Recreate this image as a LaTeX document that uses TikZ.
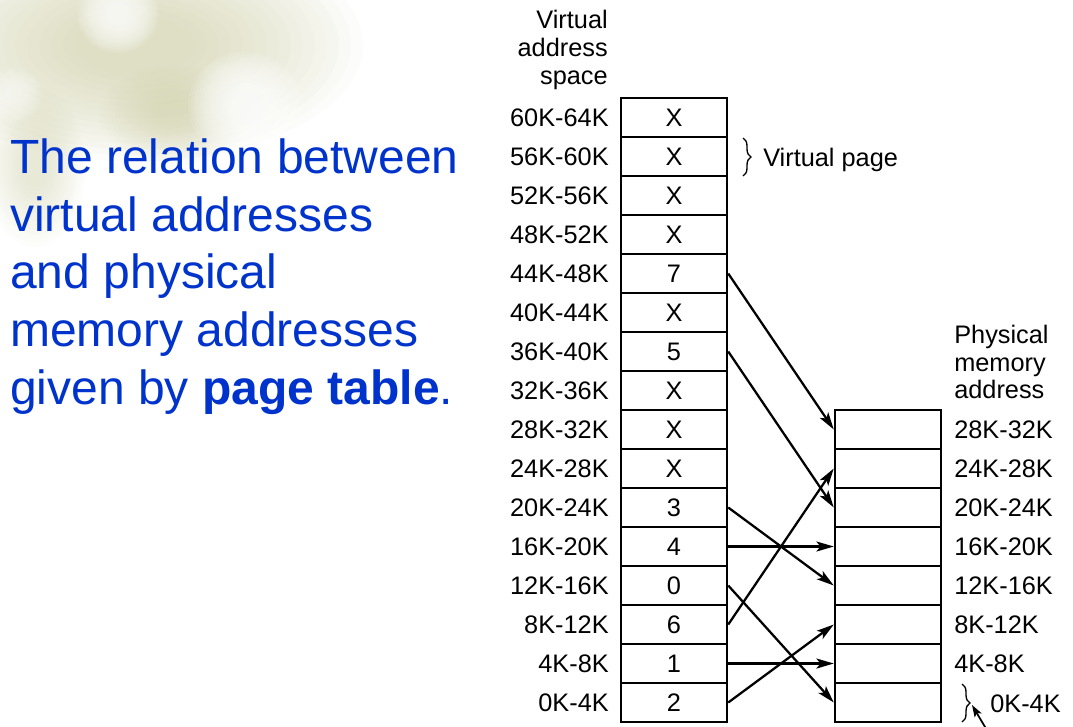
\documentclass[tikz,border=0pt]{standalone}
\usepackage{fontspec}
\setmainfont{Liberation Sans}
\usetikzlibrary{arrows.meta,decorations.pathreplacing}
\definecolor{titleblue}{RGB}{0,51,204}
\definecolor{leaf}{RGB}{196,196,150}
\newcommand\lblfont{\fontsize{19}{21}\selectfont}
% soft spot built from stacked translucent ellipses:
% #1 colour, #2 x, #3 y, #4 x radius (pt), #5 y radius (pt), #6 opacity per layer
\newcommand\softspot[6]{%
  \foreach \s in {0.25,0.3,...,1.0}{%
    \fill[#1,opacity=#6] (#2,#3) ellipse [x radius={\s*#4pt},y radius={\s*#5pt}];
  }}
\begin{document}
\begin{tikzpicture}[x=0.75pt,y=-0.75pt,
  cell/.style={draw,line width=1.85pt,minimum width=79.5pt,minimum height=29.25pt,inner sep=0pt,font=\lblfont},
  lbl/.style={inner sep=0pt,font=\lblfont},
  title/.style={inner sep=0pt,anchor=base west,text=titleblue,font=\fontsize{36}{43.5}\selectfont},
  map/.style={line width=1.7pt,-{Stealth[length=13pt,width=7.5pt,inset=3pt]}},
  bracebar/.style={decorate,decoration={brace,amplitude=6pt},line width=1pt}]
\useasboundingbox (0,0) rectangle (1073,726);

% soft leaf pattern in the upper left corner
\softspot{leaf}{135}{45}{180}{92}{0.05}
\softspot{leaf}{175}{115}{60}{40}{0.035}
\softspot{leaf}{35}{165}{40}{65}{0.03}
\softspot{white}{118}{15}{32}{30}{0.1}
\softspot{white}{245}{105}{45}{42}{0.1}
\softspot{white}{15}{95}{22}{22}{0.05}

% title text
\node[title] (t1) at (10,173) {The relation between};
\node[title] (t2) at (10,231) {virtual addresses};
\node[title] (t3) at (10,288) {and physical};
\node[title] (t4) at (10,346) {memory addresses};
\node[title] (t5) at (10,404) {given by \textbf{page table}.};

% virtual address space
\node[lbl,anchor=base east] (vh1) at (608,28) {Virtual};
\node[lbl,anchor=base east] (vh2) at (608,56) {address};
\node[lbl,anchor=base east] (vh3) at (608,84) {space};
\foreach \k/\v/\lab in {15/X/60K-64K,14/X/56K-60K,13/X/52K-56K,12/X/48K-52K,
    11/7/44K-48K,10/X/40K-44K,9/5/36K-40K,8/X/32K-36K,7/X/28K-32K,6/X/24K-28K,
    5/3/20K-24K,4/4/16K-20K,3/0/12K-16K,2/6/8K-12K,1/1/4K-8K,0/2/0K-4K}{
  \node[cell] (v\k) at (674,{702.5-39*\k}) {\v};
  \node[lbl,anchor=east] (vl\k) at (609,{702.5-39*\k}) {\lab};
}

% physical memory
\node[lbl,anchor=base west] (ph1) at (954,343) {Physical};
\node[lbl,anchor=base west] (ph2) at (954,371) {memory};
\node[lbl,anchor=base west] (ph3) at (954,398) {address};
\foreach \f in {0,...,7}{
  \node[cell] (p\f) at (888,{702.5-39*\f}) {};
}
\foreach \f/\lab in {7/28K-32K,6/24K-28K,5/20K-24K,4/16K-20K,3/12K-16K,2/8K-12K,1/4K-8K}{
  \node[lbl,anchor=west] (pl\f) at (954,{702.5-39*\f}) {\lab};
}
\node[lbl,anchor=west] (pl0) at (990,704) {0K-4K};

% page table mappings
\foreach \a/\b in {11/7,9/5,5/3,4/4,3/0,2/6,1/1,0/2}{
  \draw[map] (v\a.east) -- (p\b.west);
}

% annotations
\draw[bracebar] (743,138) -- (743,176);
\node[lbl,anchor=base west] (vpage) at (763,166) {Virtual page};
\draw[bracebar] (962,684) -- (962,722);
\coordinate (btip) at (972,705);
\coordinate (btail) at (991,737);
\draw[line width=1.3pt,-{Stealth[length=9pt,width=6pt,inset=2pt]}] (btail) -- (btip);
\end{tikzpicture}
\end{document}
